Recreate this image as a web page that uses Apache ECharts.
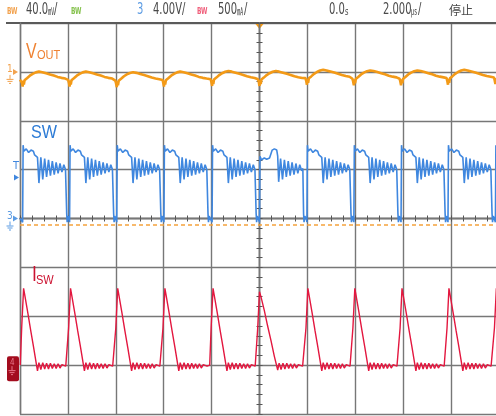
<!DOCTYPE html>
<html>
<head>
<meta charset="utf-8">
<script src="https://cdn.jsdelivr.net/npm/echarts@6/dist/echarts.min.js"></script>
<style>
  html, body { margin: 0; padding: 0; background: #ffffff; }
  #scope { width: 496px; height: 416px; }
</style>
</head>
<body>
<div id="scope"></div>
<script>
// Horizontal: 2 µs/div, trigger point at t = 0
const timeMin = -10, timeMax = 10, timeDiv = 2;

// Vertical scales and trace offsets (divisions above screen centre)
const voutPerDiv = 40,  voutOffsetDiv = 3;    // mV/div
const swPerDiv   = 4,   swOffsetDiv   = 0;    // V/div
const iswPerDiv  = 500, iswOffsetDiv  = -3;   // mA/div

// Rising edges of the switch node (µs)
const edgeTimes = [-9.89, -7.93, -5.96, -3.99, -1.98, 0.00, 1.98, 3.94, 5.91, 7.87, 9.85];
const triggerCycle = 5;
const triggerLevelV = 3.35;
const vrefLevelMv = -125;

// One switching period of each trace: [µs after the rising edge, value]
const swPeriod = [
  [0.00, -0.3], [0.02, 6.0], [0.05, 5.5], [0.15, 5.7], [0.25, 5.4], [0.35, 5.6], [0.45, 5.5],
  [0.50, 5.2], [0.58, 5.3], [0.62, 5.0],
  [0.68, 2.9], [0.76, 5.0], [0.84, 3.2], [0.92, 4.9], [1.00, 3.4], [1.08, 4.8], [1.16, 3.5],
  [1.24, 4.7], [1.32, 3.6], [1.40, 4.6], [1.48, 3.7], [1.56, 4.5], [1.64, 3.8], [1.72, 4.4],
  [1.79, 4.0], [1.82, 4.1], [1.84, 0.4], [1.86, -0.3], [1.89, 0.2], [1.93, 0.0]
];
const swTrigPeriod = [
  [0.00, -0.3], [0.02, 5.1], [0.08, 4.8], [0.20, 4.95], [0.30, 4.85], [0.42, 4.95], [0.50, 4.9],
  [0.53, 5.6], [0.62, 5.7], [0.72, 5.6], [0.76, 5.1],
  [0.80, 3.0], [0.88, 4.9], [0.96, 3.2], [1.04, 4.8], [1.12, 3.4], [1.20, 4.7], [1.28, 3.5],
  [1.36, 4.6], [1.44, 3.6], [1.52, 4.5], [1.60, 3.7], [1.68, 4.4], [1.76, 3.9], [1.81, 4.1],
  [1.84, 0.4], [1.86, -0.3], [1.89, 0.2], [1.95, 0.0]
];
const iswPeriod = [
  [-0.10, 0], [-0.04, 380], [0.04, 785], [0.10, 700], [0.22, 530], [0.34, 350], [0.46, 180],
  [0.58, 0], [0.62, -60],
  [0.68, 25], [0.76, -45], [0.84, 25], [0.92, -40], [1.00, 20], [1.08, -40], [1.16, 20],
  [1.24, -35], [1.32, 15], [1.40, -35], [1.48, 15], [1.56, -30], [1.64, 5], [1.72, -15], [1.80, -10]
];
const iswTrigPeriod = [
  [-0.17, 0], [-0.08, 360], [0.00, 750], [0.06, 700], [0.20, 560], [0.34, 400], [0.48, 250],
  [0.62, 90], [0.76, -50],
  [0.82, 20], [0.90, -45], [0.98, 20], [1.06, -40], [1.14, 20], [1.22, -35], [1.30, 15],
  [1.38, -35], [1.46, 15], [1.54, -30], [1.62, 5], [1.70, -15], [1.80, -10]
];
const voutPeriod = [
  [-0.06, -6.6], [-0.03, -8.8], [0.00, -12.0], [0.02, -7.2], [0.05, -10.4], [0.08, -6.8], [0.12, -7.9],
  [0.18, -5.2], [0.24, -4.6], [0.30, -3.1], [0.36, -2.9], [0.42, -1.6], [0.48, -1.4], [0.55, -0.4],
  [0.62, -0.7], [0.68, 0.2], [0.75, -0.6], [0.82, -0.3], [0.90, -1.4], [0.98, -1.2], [1.06, -2.3],
  [1.14, -2.1], [1.22, -3.2], [1.30, -3.0], [1.38, -3.9], [1.46, -4.1], [1.54, -4.6], [1.62, -4.9],
  [1.70, -5.7], [1.78, -5.5], [1.85, -6.4]
];
// Ripple level drift per period (mV)
const voutShift = [0.0, 0.0, -0.5, 0.0, 0.5, 0.5, 1.5, 1.0, 1.0, 1.5, 2.0];

// Header read-out
const headerCh1 = ['BW', '40.0', '㎷', '/'];
const headerCh3 = ['BW', '3', '4.00V/'];
const headerCh4 = ['BW', '500', '㎃', '/'];
const headerTime = ['0.0', 's', '2.000', '㎲', '/', '停止'];

const colVout = '#f39a17', colSw = '#3f87df', colIsw = '#e3173f';
const gridCol = '#777777';

function buildTrace(normal, trig, shift, lead) {
  const out = lead ? [lead] : [];
  edgeTimes.forEach((t0, i) => {
    const shape = (i === triggerCycle && trig) ? trig : normal;
    const s = shift ? shift[i] : 0;
    shape.forEach(([dt, v]) => out.push([+(t0 + dt).toFixed(3), v + s]));
  });
  return out;
}

const swData = buildTrace(swPeriod, swTrigPeriod, null, [timeMin, 0]);
const iswData = buildTrace(iswPeriod, iswTrigPeriod, null, null);
const voutData = buildTrace(voutPeriod, null, voutShift, [timeMin, -6.5]);

const range = (perDiv, off) => [(-4 - off) * perDiv, (4 - off) * perDiv];
const [voutMin, voutMax] = range(voutPerDiv, voutOffsetDiv);
const [swMin, swMax] = range(swPerDiv, swOffsetDiv);
const [iswMin, iswMax] = range(iswPerDiv, iswOffsetDiv);

const gridLine = { show: true, lineStyle: { color: gridCol, width: 1.4 } };
const noLab = { show: false };

function centreTickAxis(isX, inside) {
  const base = {
    type: 'value',
    axisLine: { show: true, onZero: true, onZeroAxisIndex: 0, lineStyle: { color: gridCol, width: 1.4 } },
    axisTick: { show: true, inside: inside, length: 3, lineStyle: { color: '#555', width: 1 } },
    minorTick: { show: true, splitNumber: isX ? 4 : 5, length: 3, lineStyle: { color: '#555', width: 1 } },
    axisLabel: noLab, splitLine: { show: false }
  };
  if (isX) return Object.assign(base, { min: timeMin, max: timeMax, interval: timeDiv });
  return Object.assign(base, { min: -4, max: 4, interval: 1 });
}

const option = {
  animation: false,
  backgroundColor: '#ffffff',
  grid: { left: 20, top: 23, width: 479, height: 391, outerBoundsMode: 'none', containLabel: false },
  xAxis: [
    { type: 'value', min: timeMin, max: timeMax, interval: timeDiv,
      axisLine: { show: false }, axisTick: { show: false }, axisLabel: noLab, splitLine: gridLine },
    centreTickAxis(true, true),
    centreTickAxis(true, false)
  ],
  yAxis: [
    { type: 'value', min: swMin, max: swMax, interval: swPerDiv,
      axisLine: { show: true, onZero: false, lineStyle: { color: gridCol, width: 1.4 } },
      axisTick: { show: false }, axisLabel: noLab, splitLine: gridLine },
    { type: 'value', min: voutMin, max: voutMax, show: false, splitLine: { show: false } },
    { type: 'value', min: iswMin, max: iswMax, show: false, splitLine: { show: false } },
    centreTickAxis(false, true),
    centreTickAxis(false, false)
  ],
  series: [
    { name: 'VOUT', type: 'line', xAxisIndex: 0, yAxisIndex: 1, data: voutData,
      showSymbol: false, clip: true, lineStyle: { color: colVout, width: 2.6 },
      markLine: { silent: true, symbol: ['none', 'none'], label: { show: false },
        lineStyle: { color: '#f5a23c', type: [4, 3], width: 1.5 },
        data: [{ yAxis: vrefLevelMv }] } },
    { name: 'SW', type: 'line', xAxisIndex: 0, yAxisIndex: 0, data: swData,
      showSymbol: false, clip: true, lineStyle: { color: colSw, width: 1.6 } },
    { name: 'ISW', type: 'line', xAxisIndex: 0, yAxisIndex: 2, data: iswData,
      showSymbol: false, clip: true, lineStyle: { color: colIsw, width: 1.4 } }
  ]
};

const chart = echarts.init(document.getElementById('scope'), null, { renderer: 'canvas' });
chart.setOption(option);

// Screen furniture placed from the axes
const px = v => chart.convertToPixel({ xAxisIndex: 0 }, v);
const py = (idx, v) => chart.convertToPixel({ yAxisIndex: idx }, v);
const yTop = py(0, swMax);
const hdrFont = '"DejaVu Sans Condensed", "Liberation Sans Narrow", "DejaVu Sans", sans-serif';
const cjkFont = '"Noto Sans CJK JP", "Noto Sans CJK SC", sans-serif';
const lblFont = '"Liberation Sans", Arial, sans-serif';

function ground(x, y, color) {
  return [
    { type: 'line', shape: { x1: x, y1: y, x2: x, y2: y + 4 }, style: { stroke: color, lineWidth: 1 } },
    { type: 'line', shape: { x1: x - 3.5, y1: y + 4.5, x2: x + 3.5, y2: y + 4.5 }, style: { stroke: color, lineWidth: 1 } },
    { type: 'line', shape: { x1: x - 2.5, y1: y + 6.5, x2: x + 2.5, y2: y + 6.5 }, style: { stroke: color, lineWidth: 1 } },
    { type: 'line', shape: { x1: x - 1, y1: y + 8.5, x2: x + 1, y2: y + 8.5 }, style: { stroke: color, lineWidth: 1 } }
  ];
}
function chMarker(label, color, y) {
  return [
    { type: 'text', x: 7, y: y - 7, style: { text: label, font: '10px ' + hdrFont, fill: color } },
    { type: 'polygon', shape: { points: [[13, y - 3], [13, y + 3], [18, y]] }, style: { fill: color } }
  ].concat(ground(10, y + 3, color));
}

const y1 = py(1, 0), y3 = py(0, 0), y4 = py(2, 0), yT = py(0, triggerLevelV), xT = px(0);
const hy = 3;
const sx = 0.74;
// text scaled horizontally about its own left edge
const hdr = (x, text, color, font, dy, scale) => ({ type: 'text', x: x, y: hy + (dy || 0),
  scaleX: scale || sx,
  style: { text: text, font: font || ('15px ' + hdrFont), fill: color || '#4a4a4a' } });
const unit = (x, text) => hdr(x, text, '#4a4a4a', '10px ' + cjkFont, 3, 0.62);
const badge = (x, color) => hdr(x, 'BW', color, 'bold 9px ' + hdrFont, 4, 0.72);
const label = (x, y, text, size, scale, color) => ({ type: 'text', x: x, y: y, scaleX: scale,
  style: { text: text, font: size + 'px ' + lblFont, fill: color } });

const graphics = [
  { type: 'line', shape: { x1: 6, y1: yTop, x2: 496, y2: yTop }, style: { stroke: '#5a5a5a', lineWidth: 2 } },
  { type: 'polygon', shape: { points: [[xT - 4, yTop + 1], [xT + 4, yTop + 1], [xT, yTop + 6]] }, style: { fill: colVout } },
  // header
  badge(7, '#f2a24e'),
  hdr(26, headerCh1[1]), unit(48, headerCh1[2]), hdr(54, headerCh1[3]),
  badge(71, '#86c24f'),
  hdr(137, headerCh3[1], '#5b9be3'), hdr(153, headerCh3[2]),
  badge(197, '#f0607c'),
  hdr(218, headerCh4[1]), unit(237, headerCh4[2]), hdr(244, headerCh4[3]),
  hdr(329, headerTime[0]), hdr(345, headerTime[1], '#4a4a4a', '10px ' + hdrFont, 4),
  hdr(383, headerTime[2]), unit(411, headerTime[3]), hdr(418, headerTime[4]),
  hdr(449, headerTime[5], '#4a4a4a', '12px ' + cjkFont, 1, 1),
  // trace labels
  label(26, 41, 'V', 22, 0.72, '#ef8232'),
  label(37, 49, 'OUT', 13, 0.85, '#ef8232'),
  label(31, 123, 'SW', 19, 0.85, '#2c7bd6'),
  label(32, 264, 'I', 22, 0.8, '#cc1230'),
  label(36, 274, 'SW', 13, 0.85, '#cc1230'),
  // channel 4 marker
  { type: 'rect', shape: { x: 7, y: y4 - 9, width: 12, height: 25, r: 2 }, style: { fill: '#a30c1e' } },
  { type: 'text', x: 10, y: y4 - 6, style: { text: '4', font: '8px ' + hdrFont, fill: '#e8768a' } },
  // trigger level marker
  { type: 'text', x: 13, y: yT - 17, style: { text: 'T', font: '11px ' + hdrFont, fill: colSw } },
  { type: 'polygon', shape: { points: [[14, yT - 3], [14, yT + 3], [19, yT]] }, style: { fill: colSw } }
].concat(chMarker('1', '#f2a24e', y1), chMarker('3', '#5b9be3', y3), ground(12, y4 + 1, '#e8768a'));

chart.setOption({ graphic: { elements: graphics } });
</script>
</body>
</html>
